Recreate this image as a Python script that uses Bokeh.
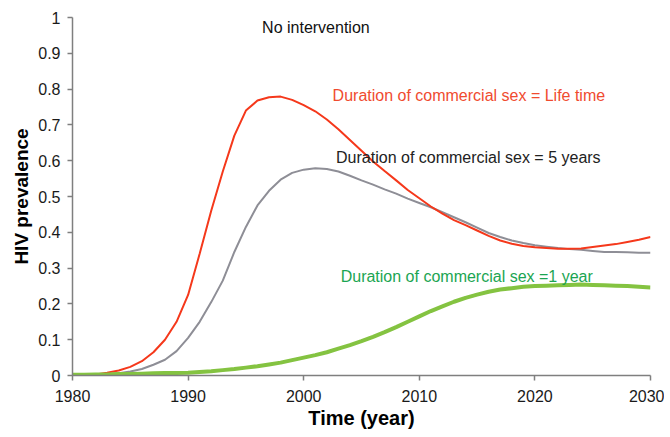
from bokeh.plotting import figure
from bokeh.models import FixedTicker, Range1d, Label
from bokeh.embed import file_html
from bokeh.resources import INLINE

years = list(range(1980, 2031))

life_time = [0.000, 0.001, 0.003, 0.008, 0.014, 0.024, 0.040, 0.065, 0.100, 0.150,
             0.225, 0.340, 0.460, 0.570, 0.670, 0.740, 0.768, 0.777, 0.779, 0.770,
             0.755, 0.738, 0.715, 0.688, 0.658, 0.628, 0.598, 0.571, 0.545, 0.518,
             0.495, 0.472, 0.452, 0.434, 0.420, 0.405, 0.390, 0.377, 0.368, 0.362,
             0.358, 0.356, 0.354, 0.354, 0.355, 0.359, 0.363, 0.367, 0.373, 0.379,
             0.387]

five_years = [0.000, 0.001, 0.002, 0.004, 0.006, 0.011, 0.018, 0.030, 0.044, 0.068,
              0.105, 0.150, 0.205, 0.265, 0.345, 0.415, 0.475, 0.516, 0.547, 0.566,
              0.575, 0.579, 0.577, 0.570, 0.558, 0.545, 0.533, 0.520, 0.508, 0.494,
              0.482, 0.470, 0.456, 0.442, 0.428, 0.413, 0.398, 0.387, 0.377, 0.370,
              0.364, 0.360, 0.356, 0.353, 0.351, 0.348, 0.345, 0.345, 0.344, 0.343,
              0.343]

one_year = [0.002, 0.002, 0.003, 0.003, 0.004, 0.004, 0.005, 0.006, 0.007, 0.007,
            0.008, 0.010, 0.012, 0.015, 0.018, 0.022, 0.026, 0.031, 0.036, 0.043,
            0.050, 0.057, 0.065, 0.075, 0.085, 0.096, 0.108, 0.121, 0.135, 0.150,
            0.165, 0.180, 0.193, 0.206, 0.217, 0.226, 0.234, 0.240, 0.244, 0.248,
            0.250, 0.251, 0.252, 0.253, 0.254, 0.253, 0.252, 0.251, 0.250, 0.248,
            0.246]

x_ticks = [1980, 1990, 2000, 2010, 2020, 2030]
y_ticks = [0, 0.1, 0.2, 0.3, 0.4, 0.5, 0.6, 0.7, 0.8, 0.9, 1]
y_tick_labels = ["0", "0.1", "0.2", "0.3", "0.4", "0.5", "0.6", "0.7", "0.8", "0.9", "1"]

FONT = "Liberation Sans"

p = figure(frame_width=578, frame_height=358, output_backend="svg", toolbar_location=None,
           x_range=Range1d(1980, 2030), y_range=Range1d(0, 1),
           min_border_left=72, min_border_right=14, min_border_top=17, min_border_bottom=5)
p.outline_line_color = None
p.grid.visible = False
p.background_fill_color = "white"
p.border_fill_color = "white"

p.line(years, five_years, line_color="#8E8E96", line_width=2)
p.line(years, life_time, line_color="#F5381B", line_width=2)
p.line(years, one_year, line_color="#84C341", line_width=4)

p.xaxis.ticker = FixedTicker(ticks=x_ticks)
p.yaxis.ticker = FixedTicker(ticks=y_ticks)
p.yaxis.major_label_overrides = {t: l for t, l in zip(y_ticks, y_tick_labels)}

for ax in (p.xaxis[0], p.yaxis[0]):
    ax.axis_line_color = "#7F7F7F"
    ax.axis_line_width = 1.5
    ax.major_tick_line_color = "#7F7F7F"
    ax.major_tick_line_width = 1.5
    ax.major_tick_out = 5
    ax.major_tick_in = 0
    ax.minor_tick_line_color = None
    ax.major_label_text_font = FONT
    ax.major_label_text_font_size = "16px"
    ax.major_label_text_color = "#1a1a1a"
    ax.axis_label_text_font = FONT
    ax.axis_label_text_font_style = "bold"
    ax.axis_label_text_color = "#000000"

p.xaxis.axis_label = "Time (year)"
p.xaxis.axis_label_text_font_size = "20px"
p.xaxis.major_label_standoff = 9
p.xaxis.axis_label_standoff = 2

p.yaxis.axis_label = "HIV prevalence"
p.yaxis.axis_label_text_font_size = "19px"
p.yaxis.major_label_standoff = 7
p.yaxis.axis_label_standoff = 3

labels = [
    (1996.4, 0.971, "No intervention", "#111111"),
    (2002.5, 0.782, "Duration of commercial sex = Life time", "#F04B2F"),
    (2002.8, 0.61, "Duration of commercial sex = 5 years", "#222222"),
    (2003.2, 0.277, "Duration of commercial sex =1 year", "#1BA552"),
]
for x, y, t, c in labels:
    p.add_layout(Label(x=x, y=y, text=t, text_color=c, text_font=FONT,
                       text_font_size="16px", text_baseline="middle", text_align="left"))

open("out.html", "w").write(file_html(p, INLINE))
